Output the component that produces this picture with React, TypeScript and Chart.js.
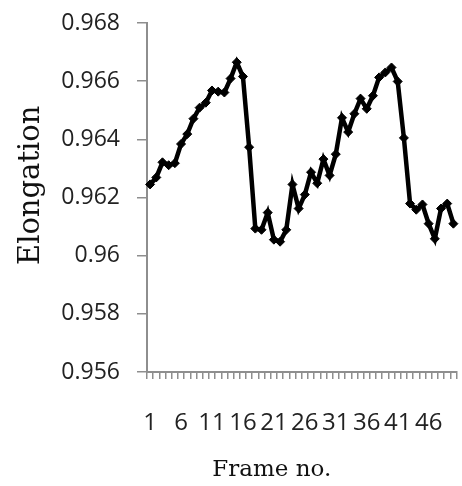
import React, { useEffect, useRef } from "react";
import { Chart, registerables } from "chart.js";

Chart.register(...registerables);

const frames: string[] = Array.from({ length: 50 }, (_, i) => String(i + 1));

const elongation: number[] = [
  0.96245, 0.96269, 0.96321, 0.96311, 0.96318, 0.96384, 0.96418, 0.96471, 0.96509, 0.96526,
  0.96568, 0.96564, 0.96561, 0.96609, 0.96665, 0.96616, 0.96373, 0.96093, 0.96089, 0.96148,
  0.96055, 0.96048, 0.96089, 0.96245, 0.96162, 0.9621, 0.96287, 0.96249, 0.96332, 0.96276,
  0.96349, 0.96474, 0.96425, 0.96488, 0.9654, 0.96505, 0.9655, 0.96613, 0.9663, 0.96647,
  0.96599, 0.96405, 0.96179, 0.96158, 0.96176, 0.9611, 0.96058, 0.96162, 0.96179, 0.9611,
];

const yMin = 0.956;
const yMax = 0.968;
const yStep = 0.002;
const labelEvery = 5;
const xTitle = "Frame no.";
const yTitle = "Elongation";

const axisTitlesPlugin = {
  id: "axisTitles",
  afterDraw(chart: any) {
    const { ctx, chartArea } = chart;
    const { left, right, top, bottom } = chartArea;
    ctx.save();
    ctx.fillStyle = "#111";
    ctx.textAlign = "center";
    ctx.textBaseline = "middle";
    ctx.font = "23px 'DejaVu Serif'";
    ctx.fillText(xTitle, left + (right - left) * 0.403, chart.height - 16);
    ctx.translate(31, top + (bottom - top) * 0.465);
    ctx.rotate(-Math.PI / 2);
    ctx.font = "29px 'DejaVu Serif'";
    ctx.fillText(yTitle, 0, 0);
    ctx.restore();
  },
};

export default function App() {
  const ref = useRef<HTMLCanvasElement | null>(null);

  useEffect(() => {
    document.body.style.margin = "0";
    const canvas = ref.current;
    if (!canvas) return;
    const axisColor = "#8e8e8e";
    const chart = new Chart(canvas, {
      type: "line",
      data: {
        labels: frames,
        datasets: [
          {
            data: elongation,
            borderColor: "#000",
            backgroundColor: "#000",
            borderWidth: 4.5,
            pointStyle: "rectRot",
            pointRadius: 4.5,
            pointBackgroundColor: "#000",
            pointBorderColor: "#000",
            pointBorderWidth: 1,
            tension: 0,
          },
        ],
      },
      plugins: [axisTitlesPlugin],
      options: {
        responsive: false,
        animation: false,
        events: [],
        layout: { padding: { top: 23, right: 5, bottom: 0, left: 0 } },
        plugins: {
          legend: { display: false },
          tooltip: { enabled: false },
          title: { display: false },
        },
        scales: {
          x: {
            type: "category",
            offset: true,
            grid: {
              display: true,
              offset: true,
              drawOnChartArea: false,
              drawTicks: true,
              tickLength: 7,
              color: axisColor,
              lineWidth: 1.5,
            },
            border: { display: true, color: axisColor, width: 2 },
            ticks: {
              autoSkip: false,
              maxRotation: 0,
              minRotation: 0,
              padding: 30,
              color: "#222",
              font: { family: "'Open Sans'", size: 24 },
              callback: (_v: any, i: number) => (i % labelEvery === 0 ? frames[i] : ""),
            },
            title: { display: false },
            afterFit: (s: any) => {
              s.height = 114;
              s.paddingLeft = 0;
              s.paddingRight = 0;
            },
          },
          y: {
            type: "linear",
            min: yMin,
            max: yMax,
            grid: {
              display: true,
              drawOnChartArea: false,
              drawTicks: true,
              tickLength: 10,
              color: axisColor,
              lineWidth: 1.5,
            },
            border: { display: true, color: axisColor, width: 2 },
            ticks: {
              stepSize: yStep,
              padding: 17,
              color: "#222",
              font: { family: "'Open Sans'", size: 23 },
              callback: (v: any) => String(parseFloat(Number(v).toFixed(3))),
            },
            title: { display: false },
            afterFit: (s: any) => {
              s.width = 147;
              s.paddingTop = 0;
              s.paddingBottom = 0;
            },
          },
        },
      },
    });
    return () => chart.destroy();
  }, []);

  return (
    <div style={{ width: 462, height: 486 }}>
      <canvas ref={ref} width={462} height={486} style={{ display: "block" }} />
    </div>
  );
}
